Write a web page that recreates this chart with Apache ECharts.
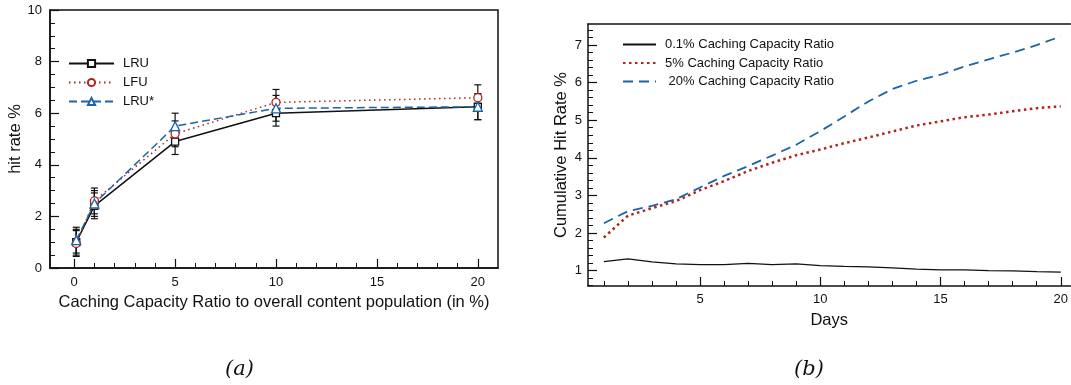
<!DOCTYPE html>
<html>
<head>
<meta charset="utf-8">
<script src="https://cdn.jsdelivr.net/npm/echarts@6/dist/echarts.min.js"></script>
<style>
  html, body { margin: 0; padding: 0; background: #fff; }
  #chart { width: 1071px; height: 385px; }
</style>
</head>
<body>
<div id="chart"></div>
<script>
// (a) hit rate vs caching capacity ratio
const ratios = [0.1, 1, 5, 10, 20];
const lru = [1.0, 2.41, 4.9, 6.0, 6.25];
const lfu = [0.95, 2.6, 5.2, 6.42, 6.6];
const lruStar = [1.08, 2.5, 5.5, 6.19, 6.25];
const lruErr = [0.5, 0.5, 0.5, 0.5, 0.5];
const lfuErr = [0.5, 0.5, 0.5, 0.5, 0.5];
const lruStarErr = [0.5, 0.5, 0.5, 0.5, 0.5];
const ratioTicks = [0, 5, 10, 15, 20];
const ratioMinor = [1, 2, 3, 4, 6, 7, 8, 9, 11, 12, 13, 14, 16, 17, 18, 19];

// (b) cumulative hit rate per day
const days = [1, 2, 3, 4, 5, 6, 7, 8, 9, 10, 11, 12, 13, 14, 15, 16, 17, 18, 19, 20];
const cum01 = [1.24, 1.31, 1.23, 1.18, 1.16, 1.16, 1.19, 1.16, 1.18, 1.13, 1.11, 1.10, 1.07, 1.04, 1.02, 1.02, 1.00, 0.99, 0.97, 0.96];
const cum5 = [1.88, 2.46, 2.66, 2.85, 3.14, 3.38, 3.65, 3.87, 4.07, 4.22, 4.39, 4.54, 4.70, 4.86, 4.97, 5.08, 5.15, 5.24, 5.32, 5.37];
const cum20 = [2.26, 2.58, 2.72, 2.90, 3.21, 3.52, 3.78, 4.06, 4.35, 4.71, 5.10, 5.50, 5.83, 6.05, 6.21, 6.43, 6.62, 6.80, 7.00, 7.23];
const dayTicks = [5, 10, 15, 20];
const cumTicks = [1, 2, 3, 4, 5, 6, 7];

const FONT = 'Liberation Sans';
const BLACK = '#111';
const RED = '#b0241b';
const BLUE = '#1c64a6';

const cumMinor = [];
for (let v = 0.6; v < 7.55; v += 0.2) cumMinor.push(Math.round(v * 10) / 10);

function zip(xs, ys) { return xs.map((x, i) => [x, ys[i]]); }
function errData(ys, es) { return ratios.map((x, i) => [x, ys[i] - es[i], ys[i] + es[i]]); }

function errorBars(name, ys, es) {
  return {
    type: 'custom', name: name + ' err', xAxisIndex: 0, yAxisIndex: 0, z: 1,
    silent: true,
    data: errData(ys, es),
    renderItem: function (params, api) {
      const lo = api.coord([api.value(0), api.value(1)]);
      const hi = api.coord([api.value(0), api.value(2)]);
      const w = 3.5;
      const st = { stroke: BLACK, lineWidth: 1.2 };
      return {
        type: 'group',
        children: [
          { type: 'line', shape: { x1: lo[0], y1: lo[1], x2: hi[0], y2: hi[1] }, style: st },
          { type: 'line', shape: { x1: lo[0] - w, y1: lo[1], x2: lo[0] + w, y2: lo[1] }, style: st },
          { type: 'line', shape: { x1: hi[0] - w, y1: hi[1], x2: hi[0] + w, y2: hi[1] }, style: st }
        ]
      };
    }
  };
}

const axisLine = { show: true, onZero: false, lineStyle: { color: BLACK, width: 1.5 } };
const noLine = { show: false, onZero: false };
const labelStyle = { color: BLACK, fontFamily: FONT, fontSize: 13 };
const nameStyle = { color: BLACK, fontFamily: FONT, fontSize: 16.5 };

const option = {
  animation: false,
  backgroundColor: '#fff',
  grid: [
    { left: 50, right: 573, top: 10, bottom: 117, show: true, borderColor: BLACK, borderWidth: 1.5 },
    { left: 588, right: 0, top: 24, bottom: 99 }
  ],
  legend: [
    {
      left: 68, top: 57, orient: 'vertical', padding: 0, itemWidth: 45, itemHeight: 9, itemGap: 6,
      data: ['LRU', 'LFU', 'LRU*'],
      textStyle: { color: BLACK, fontFamily: FONT, fontSize: 13, padding: [0, 0, 0, 4] }
    },
    {
      left: 622, top: 38, orient: 'vertical', padding: 0, itemWidth: 33, itemHeight: 9, itemGap: 5.5,
      data: ['0.1% Caching Capacity Ratio', '5% Caching Capacity Ratio', ' 20% Caching Capacity Ratio'],
      itemStyle: { opacity: 0 },
      textStyle: { color: BLACK, fontFamily: FONT, fontSize: 13, padding: [0, 0, 0, 4] }
    }
  ],
  xAxis: [
    {
      gridIndex: 0, type: 'value', min: -1.2, max: 21,
      axisLine: axisLine, splitLine: { show: false },
      axisTick: { inside: true, length: 9, customValues: ratioTicks, lineStyle: { color: BLACK, width: 1.2 } },
      axisLabel: { customValues: ratioTicks, margin: 8, ...labelStyle },
      name: 'Caching Capacity Ratio to overall content population (in %)',
      nameLocation: 'middle', nameGap: 21, nameTextStyle: nameStyle
    },
    {
      gridIndex: 0, type: 'value', min: -1.2, max: 21, position: 'bottom',
      axisLine: noLine, splitLine: { show: false }, axisLabel: { show: false },
      axisTick: { inside: true, length: 5, customValues: ratioMinor, lineStyle: { color: BLACK, width: 1 } }
    },
    {
      gridIndex: 1, type: 'value', min: 0.34, max: 20.4,
      axisLine: axisLine, splitLine: { show: false },
      axisTick: { inside: true, length: 9, customValues: dayTicks, lineStyle: { color: BLACK, width: 1.2 } },
      axisLabel: { customValues: dayTicks, margin: 7, ...labelStyle },
      name: 'Days', nameLocation: 'middle', nameGap: 26, nameTextStyle: nameStyle
    },
    {
      gridIndex: 1, type: 'value', min: 0.34, max: 20.4, position: 'bottom',
      axisLine: noLine, splitLine: { show: false }, axisLabel: { show: false },
      axisTick: { inside: true, length: 5, customValues: days, lineStyle: { color: BLACK, width: 1 } }
    },
    {
      gridIndex: 1, type: 'value', min: 0.34, max: 20.4, position: 'top',
      axisLine: axisLine, splitLine: { show: false }, axisLabel: { show: false }, axisTick: { show: false }
    }
  ],
  yAxis: [
    {
      gridIndex: 0, type: 'value', min: 0, max: 10, interval: 2,
      axisLine: axisLine, splitLine: { show: false },
      axisTick: { inside: true, length: 9, lineStyle: { color: BLACK, width: 1.2 } },
      minorTick: { show: true, splitNumber: 4, length: 5, lineStyle: { color: BLACK, width: 1 } },
      axisLabel: { margin: 8, ...labelStyle },
      name: 'hit rate %', nameLocation: 'middle', nameGap: 22, nameTextStyle: nameStyle
    },
    {
      gridIndex: 1, type: 'value', min: 0.59, max: 7.56,
      axisLine: axisLine, splitLine: { show: false },
      axisTick: { inside: true, length: 9, customValues: cumTicks, lineStyle: { color: BLACK, width: 1.2 } },
      axisLabel: { customValues: cumTicks, margin: 6, ...labelStyle },
      name: 'Cumulative Hit Rate %', nameLocation: 'middle', nameGap: 18, nameTextStyle: nameStyle
    },
    {
      gridIndex: 1, type: 'value', min: 0.59, max: 7.56, position: 'left',
      axisLine: noLine, splitLine: { show: false }, axisLabel: { show: false },
      axisTick: { inside: true, length: 5, customValues: cumMinor, lineStyle: { color: BLACK, width: 1 } }
    }
  ],
  graphic: [
    { type: 'text', left: 225, top: 359, style: { text: '(a)', fontFamily: 'DejaVu Serif', fontStyle: 'italic', fontSize: 21, fill: BLACK } },
    { type: 'text', left: 794, top: 359, style: { text: '(b)', fontFamily: 'DejaVu Serif', fontStyle: 'italic', fontSize: 21, fill: BLACK } }
  ],
  series: [
    errorBars('LRU', lru, lruErr),
    errorBars('LFU', lfu, lfuErr),
    errorBars('LRU*', lruStar, lruStarErr),
    {
      name: 'LRU', type: 'line', xAxisIndex: 0, yAxisIndex: 0, z: 3,
      data: zip(ratios, lru), symbol: 'rect', symbolSize: 7,
      lineStyle: { color: BLACK, width: 1.5, type: 'solid' },
      itemStyle: { color: '#fff', borderColor: BLACK, borderWidth: 1.3 }
    },
    {
      name: 'LFU', type: 'line', xAxisIndex: 0, yAxisIndex: 0, z: 4,
      data: zip(ratios, lfu), symbol: 'circle', symbolSize: 8,
      lineStyle: { color: RED, width: 1.5, type: [1.5, 3.5] },
      itemStyle: { color: '#fff', borderColor: RED, borderWidth: 1.3 }
    },
    {
      name: 'LRU*', type: 'line', xAxisIndex: 0, yAxisIndex: 0, z: 5,
      data: zip(ratios, lruStar), symbol: 'triangle', symbolSize: 9,
      lineStyle: { color: BLUE, width: 1.5, type: [8, 4] },
      itemStyle: { color: '#fff', borderColor: BLUE, borderWidth: 1.3 }
    },
    {
      name: '0.1% Caching Capacity Ratio', type: 'line', xAxisIndex: 2, yAxisIndex: 1,
      data: zip(days, cum01), showSymbol: false, symbol: 'none',
      lineStyle: { color: BLACK, width: 1.3 }, itemStyle: { color: BLACK }
    },
    {
      name: '5% Caching Capacity Ratio', type: 'line', xAxisIndex: 2, yAxisIndex: 1,
      data: zip(days, cum5), showSymbol: false, symbol: 'none',
      lineStyle: { color: RED, width: 2.5, type: [2.5, 3.5] }, itemStyle: { color: RED }
    },
    {
      name: ' 20% Caching Capacity Ratio', type: 'line', xAxisIndex: 2, yAxisIndex: 1,
      data: zip(days, cum20), showSymbol: false, symbol: 'none',
      lineStyle: { color: BLUE, width: 1.8, type: [10, 6] }, itemStyle: { color: BLUE }
    }
  ]
};

const chart = echarts.init(document.getElementById('chart'));
chart.setOption(option);
</script>
</body>
</html>
